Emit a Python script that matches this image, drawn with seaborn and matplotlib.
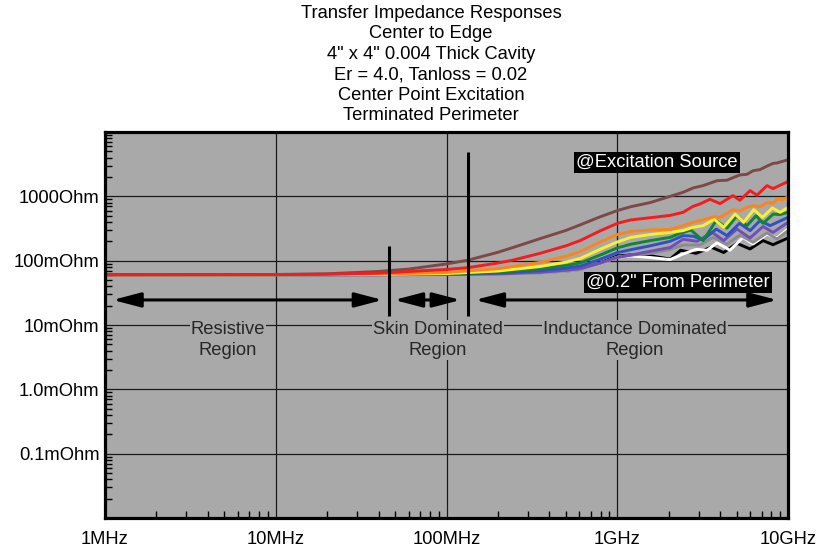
import numpy as np
import pandas as pd
import matplotlib
matplotlib.use("Agg")
import matplotlib.pyplot as plt
import seaborn as sns
from matplotlib.ticker import FixedLocator, LogLocator, NullFormatter, FixedFormatter

sns.set_theme(style="white")
plt.rcParams["font.family"] = ["Liberation Sans", "DejaVu Sans"]

# ---------------- data (frequency in MHz, impedance in mOhm) ----------------
f_brown = [1, 10, 20, 40, 60, 100, 134, 200, 245, 353, 500, 606, 793, 1000, 1200, 1560, 2040, 2430,
           2780, 3180, 3840, 4390, 4760, 5230, 5750, 6240, 6850, 7530, 8170, 8620, 10000]
z_brown = [60.6, 61, 62.5, 68, 74, 89, 102, 135, 160, 220, 295, 360, 480, 600, 690, 800, 1000, 1155,
           1350, 1467, 1750, 1780, 1950, 2150, 2200, 2500, 2600, 2950, 3250, 3300, 3700]

f_red = [1, 10, 20, 40, 100, 134, 200, 245, 353, 500, 606, 793, 1000, 1200, 1560, 2040, 2430, 2780,
         3050, 3490, 4000, 4760, 5230, 6000, 6580, 7530, 8170, 10000]
z_red = [60.6, 60.8, 61.5, 64, 73, 78, 92, 102, 130, 170, 205, 290, 380, 430, 465, 505, 564, 700,
         760, 900, 770, 1025, 870, 1227, 1040, 1467, 1318, 1700]

f_orange = [1, 10, 40, 100, 200, 353, 500, 606, 793, 1000, 1200, 1560, 2040, 2430, 2780,
            3180, 3700, 4000, 4390, 4760, 5230, 5750, 6240, 6850, 7530, 8170, 8620, 9300, 10000]
z_orange = [60.6, 60.7, 62, 65.5, 75, 94, 117, 138, 195, 255, 285, 300, 305, 350, 394,
            433, 483, 470, 545, 620, 590, 680, 717, 690, 800, 780, 911, 880, 990]

f_yellow = [1, 10, 40, 100, 200, 353, 500, 606, 793, 1000, 1200, 1560, 2040, 2430, 2780, 3180,
            3700, 4200, 4900, 5500, 6300, 7100, 8100, 9000, 10000]
z_yellow = [60.6, 60.6, 61, 63, 69, 81, 95, 108, 150, 195, 230, 255, 275, 293, 330, 350,
            440, 330, 530, 394, 620, 471, 660, 564, 674]

f_green = [1, 10, 40, 100, 200, 353, 500, 606, 793, 1000, 1200, 1560, 2040, 2300, 2700, 3180, 3800,
           4390, 5000, 5750, 6500, 7140, 8200, 9000, 10000]
z_green = [60.6, 60.6, 60.8, 62, 66, 75, 84, 92, 122, 158, 180, 205, 230, 262, 300, 205, 420,
           320, 490, 350, 500, 380, 530, 520, 564]

f_blue = [1, 10, 40, 100, 200, 353, 500, 606, 793, 1000, 1200, 1560, 2040, 2430, 2780, 3180, 3800,
          4390, 5200, 6000, 6850, 7850, 10000]
z_blue = [60.6, 60.6, 60.7, 61.5, 64, 70, 77, 82, 105, 133, 148, 170, 200, 245, 240, 210, 310,
          245, 380, 293, 419, 350, 471]

f_purple = [1, 10, 40, 100, 200, 353, 500, 606, 793, 1000, 1200, 1560, 2040, 2430, 2930, 3600, 4200,
            5020, 5990, 7140, 8170, 10000]
z_purple = [60.6, 60.6, 60.6, 61, 62.5, 66, 71, 75, 92, 112, 122, 140, 160, 215, 200, 275, 205,
            311, 225, 340, 275, 394]

f_gray = [1, 10, 40, 100, 200, 353, 500, 606, 793, 1000, 1200, 1560, 2040, 2430, 3050, 3640,
          4390, 5230, 6240, 7530, 8620, 10000]
z_gray = [60.6, 60.6, 60.6, 61, 62, 65, 69, 73, 90, 113, 122, 130, 150, 175, 175, 230,
          180, 250, 193, 270, 217, 293]

f_white = [1, 10, 40, 100, 200, 353, 500, 606, 793, 1000, 1200, 1560, 2040, 2430, 2900, 3360,
           3840, 4570, 5450, 6240, 7530, 8620, 10000]
z_white = [60.6, 60.6, 60.6, 61, 62, 65, 69, 73, 90, 113, 118, 112, 104, 127, 150, 145,
           190, 145, 230, 182, 258, 225, 311]

f_black = [1, 10, 40, 100, 200, 353, 500, 606, 793, 1000, 1200, 1600, 2040, 2350, 2900, 3550,
           4200, 5020, 5990, 7140, 8170, 10000]
z_black = [60.6, 60.6, 60.6, 61, 62, 65, 69, 73, 92, 118, 123, 118, 106, 145, 130, 162,
           134, 186, 152, 205, 177, 225]

curve_names = ["black", "white", "gray", "purple", "blue", "green", "yellow", "orange", "brown", "red"]
curve_f = [f_black, f_white, f_gray, f_purple, f_blue, f_green, f_yellow, f_orange, f_brown, f_red]
curve_z = [z_black, z_white, z_gray, z_purple, z_blue, z_green, z_yellow, z_orange, z_brown, z_red]
curve_colors = ["#000000", "#ffffff", "#8c8c8c", "#7050b8", "#3050c8", "#10843a",
                "#f8f030", "#ff8418", "#7f4848", "#f41c1c"]

x_ticks = [1e6, 1e7, 1e8, 1e9, 1e10]
x_labels = ["1MHz", "10MHz", "100MHz", "1GHz", "10GHz"]
y_ticks = [0.1, 1, 10, 100, 1000]
y_labels = ["0.1mOhm", "1.0mOhm", "10mOhm", "100mOhm", "1000Ohm"]

title_lines = ["Transfer Impedance Responses", "Center to Edge", "4\" x 4\" 0.004 Thick Cavity",
               "Er = 4.0, Tanloss = 0.02", "Center Point Excitation", "Terminated Perimeter"]

# region boundary markers (MHz, mOhm)
marker_f = [46, 134]
marker_top = [171, 4950]
marker_bottom = 13.6
arrow_level = 24.5
arrow_spans = [(1.11, 42.3), (49.4, 121), (147, 8650)]
region_texts = ["Resistive\nRegion", "Skin Dominated\nRegion", "Inductance Dominated\nRegion"]
region_f = [5.23, 89, 1270]
region_z = 5.9
tag_texts = ["@Excitation Source", "@0.2\" From Perimeter"]
tag_f = [1710, 2270]
tag_z = [3342, 45.5]

FS = 13.2

# ---------------- build frame ----------------
rows = []
for name, fs, zs in zip(curve_names, curve_f, curve_z):
    for f, z in zip(fs, zs):
        rows.append({"curve": name, "freq": f * 1e6, "z": z})
df = pd.DataFrame(rows)

bg = "#a9a9a9"
fig = plt.figure(figsize=(8.26, 5.48), dpi=100)
ax = fig.add_axes([105 / 826, 1 - 518 / 548, (788 - 105) / 826, (518 - 132) / 548])
ax.set_facecolor(bg)

sns.lineplot(data=df, x="freq", y="z", hue="curve", hue_order=curve_names,
             palette=dict(zip(curve_names, curve_colors)), estimator=None, sort=False,
             linewidth=2.1, legend=False, ax=ax, solid_joinstyle="round")

ax.set_xscale("log")
ax.set_yscale("log")
ax.set_xlim(1e6, 1e10)
ax.set_ylim(0.01, 10000)

ax.xaxis.set_major_locator(FixedLocator(x_ticks))
ax.xaxis.set_major_formatter(FixedFormatter(x_labels))
ax.yaxis.set_major_locator(FixedLocator(y_ticks))
ax.yaxis.set_major_formatter(FixedFormatter(y_labels))
ax.xaxis.set_minor_locator(LogLocator(base=10, subs=np.arange(2, 10), numticks=30))
ax.yaxis.set_minor_locator(LogLocator(base=10, subs=np.arange(2, 10), numticks=30))
ax.xaxis.set_minor_formatter(NullFormatter())
ax.yaxis.set_minor_formatter(NullFormatter())

ax.tick_params(axis="both", which="both", direction="in", colors="black", labelsize=FS)
ax.tick_params(axis="both", which="major", length=6, width=1)
ax.tick_params(axis="both", which="minor", length=5, width=1, left=True, bottom=True)
ax.tick_params(axis="x", which="major", pad=9)
ax.tick_params(axis="y", which="major", pad=4)
ax.set_xlabel("")
ax.set_ylabel("")

ax.grid(which="major", color="#1a1a1a", linewidth=0.9)
ax.grid(which="minor", visible=False)
for s in ax.spines.values():
    s.set_visible(True)
    s.set_color("black")
    s.set_linewidth(2.3)
    s.set_zorder(5)

# boundary markers
for f, top in zip(marker_f, marker_top):
    ax.plot([f * 1e6, f * 1e6], [marker_bottom, top], color="black", lw=2.2, zorder=4,
            solid_capstyle="butt")

# double arrows
for a, b in arrow_spans:
    ax.annotate("", xy=(b * 1e6, arrow_level), xytext=(a * 1e6, arrow_level),
                arrowprops=dict(arrowstyle="<|-|>,head_length=1.3,head_width=0.34",
                                color="black", lw=2.2, shrinkA=0, shrinkB=0,
                                mutation_scale=13), zorder=4)

for t, f in zip(region_texts, region_f):
    ax.text(f * 1e6, region_z, t, ha="center", va="center", fontsize=FS, linespacing=1.3,
            multialignment="center", zorder=3,
            bbox=dict(boxstyle="square,pad=0.05", fc=bg, ec="none"))

for t, f, z in zip(tag_texts, tag_f, tag_z):
    ax.text(f * 1e6, z, t, ha="center", va="center", fontsize=FS, color="white", zorder=6,
            bbox=dict(boxstyle="square,pad=0.1", fc="black", ec="none"))

fig.text(431 / 826, 1 - 5 / 548, "\n".join(title_lines), ha="center", va="top",
         fontsize=FS, linespacing=1.26, color="black")

fig.savefig("out.png", dpi=100, facecolor="white")
